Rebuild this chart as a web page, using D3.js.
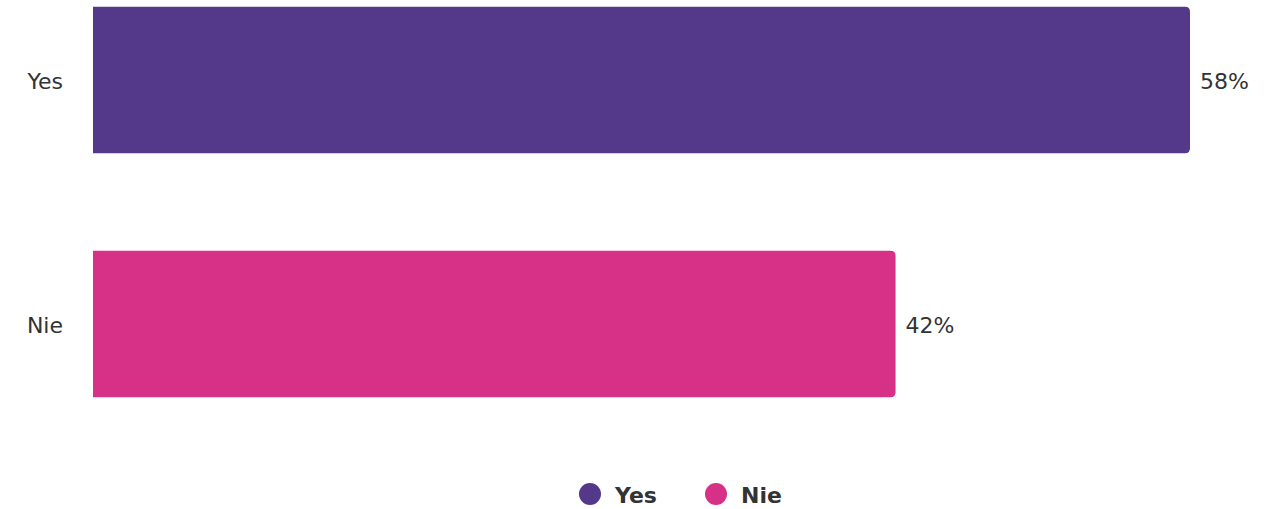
<!DOCTYPE html>
<html>
<head>
<meta charset="utf-8">
<script src="https://cdn.jsdelivr.net/npm/d3@7"></script>
<style>
  body { margin:0; background:#fff; }
  text { font-family: "DejaVu Sans", sans-serif; fill:#333; }
</style>
</head>
<body>
<svg id="chart" width="1281" height="509"></svg>
<script>
const categories = ["Yes", "Nie"];
const values = [57.75, 42.25];
const colors = ["#54388a", "#d63087"];

const W = 1281, H = 509;
const svg = d3.select("#chart");
const left = 93, right = 1190;

const x = d3.scaleLinear().domain([0, d3.max(values)]).range([left, right]);
const y = d3.scaleBand().domain(categories).range([-42, 446]).paddingInner(0.4).paddingOuter(0.2);

// right-rounded bar path
function barPath(x0, y0, w, h, r) {
  return `M${x0},${y0}H${x0 + w - r}Q${x0 + w},${y0} ${x0 + w},${y0 + r}` +
         `V${y0 + h - r}Q${x0 + w},${y0 + h} ${x0 + w - r},${y0 + h}H${x0}Z`;
}

const g = svg.append("g");
categories.forEach((c, i) => {
  const bw = x(values[i]) - x(0);
  g.append("path")
    .attr("d", barPath(x(0), y(c), bw, y.bandwidth(), 5))
    .attr("fill", colors[i]);
  g.append("text")
    .attr("x", x(values[i]) + 10)
    .attr("y", y(c) + y.bandwidth() / 2 + 1)
    .attr("dy", "0.35em")
    .style("font-size", "22px")
    .text(Math.round(values[i]) + "%");
  g.append("text")
    .attr("x", 63)
    .attr("y", y(c) + y.bandwidth() / 2 + 1)
    .attr("dy", "0.35em")
    .attr("text-anchor", "end")
    .style("font-size", "22px")
    .text(c);
});

// legend
const legendX = [590, 716];
const lg = svg.append("g");
categories.forEach((c, i) => {
  lg.append("circle").attr("cx", legendX[i]).attr("cy", 494).attr("r", 11).attr("fill", colors[i]);
  lg.append("text")
    .attr("x", legendX[i] + 25)
    .attr("y", 495)
    .attr("dy", "0.35em")
    .style("font-size", "22px")
    .style("font-weight", "bold")
    .text(c);
});
</script>
</body>
</html>
